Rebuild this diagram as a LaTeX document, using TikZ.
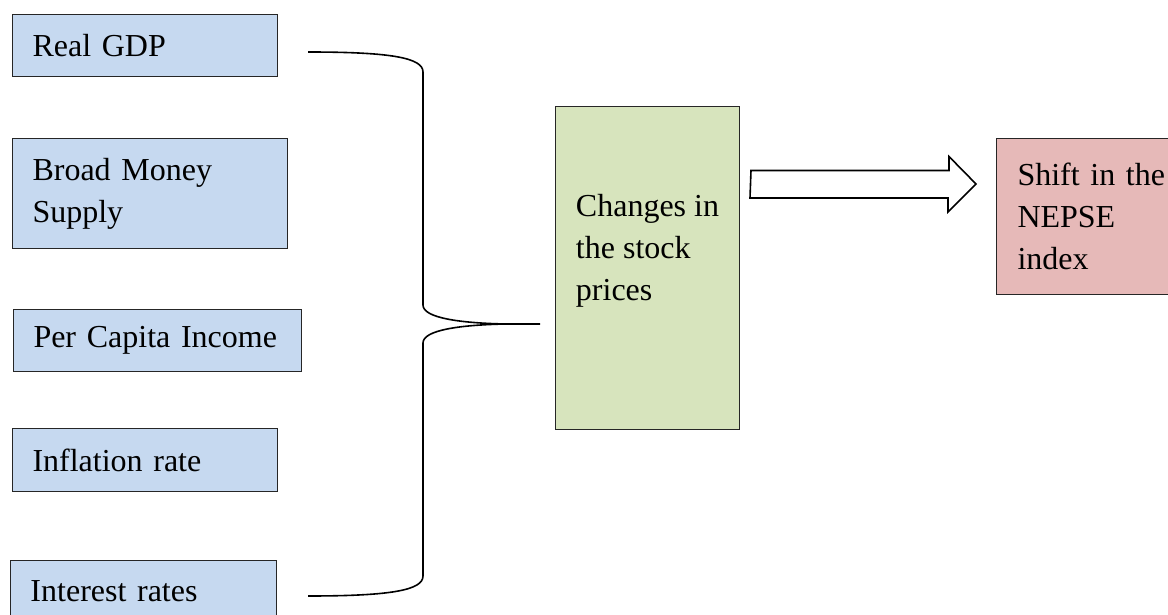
\documentclass[tikz,border=0pt]{standalone}
\usepackage{fontspec}
\setmainfont{Liberation Serif}
\usetikzlibrary{calc}
\definecolor{factorblue}{HTML}{C6D9F0}
\definecolor{pricegreen}{HTML}{D7E4BD}
\definecolor{indexpink}{HTML}{E6B9B8}
\begin{document}
\begin{tikzpicture}[x=1pt,y=-1pt]
            \tikzset{
                box/.style={draw=black!85, line width=1pt, anchor=north west, align=left,
                    inner xsep=20pt, inner ysep=0pt, font=\fontsize{32}{42}\selectfont},
                factor/.style={box, fill=factorblue, minimum height=62pt},
                brace/.style={line width=1.6pt},
                blockarrow/.style={draw, fill=white, line width=1.6pt, line join=miter},}
            \useasboundingbox (0,0) rectangle (1168,615);
            % the five factors
            \node [factor, text width=225pt] (gdp) at (12,14) {Real GDP};
            \node [factor, text width=235pt, minimum height=110pt] (money) at (12,138) {Broad Money\\Supply};
            \node [factor, text width=248pt] (income) at (13,309) {Per Capita Income};
            \node [factor, text width=225pt, minimum height=63pt] (inflation) at (12,428) {Inflation rate};
            \node [factor, text width=226pt] (interest) at (10,560) {Interest rates};
            \node [box, fill=pricegreen, minimum width=184pt, minimum height=323pt] (change) at (555,106)
                {Changes in\\the stock\\prices\\\mbox{}};
            \node [box, fill=indexpink, text width=160pt, inner xsep=21pt, minimum height=156pt] (shift) at (996,138)
                {Shift in the\\NEPSE\\index};
            \coordinate (bracetop) at ($(gdp.north east)+(30,38)$);
            \coordinate (bracebottom) at ($(interest.north east)+(31,36)$);
            \coordinate (bracetip) at ($(change.north west)+(-15,218)$);
            \draw [brace] (bracetop) .. controls (392,52) and (423,58) .. (423,72) -- (423,305)
                .. controls (423,318) and (460,323) .. (505,324) -- (bracetip)
                -- (505,324) .. controls (460,325) and (423,330) .. (423,343) -- (423,576)
                .. controls (423,590) and (392,596) .. (bracebottom);
            \coordinate (arrowtail) at ($(change.north east)+(11,78)$);
            \coordinate (arrowtip) at ($(shift.north west)+(-20,46)$);
            \draw [blockarrow] (arrowtail) ++(0,-13.5) -- ++(198,0) -- ++(0,-14) -- (arrowtip)
                -- ++(-28,28) -- ++(0,-14) -- ++(-198,0) -- cycle;
        \end{tikzpicture}
\end{document}
